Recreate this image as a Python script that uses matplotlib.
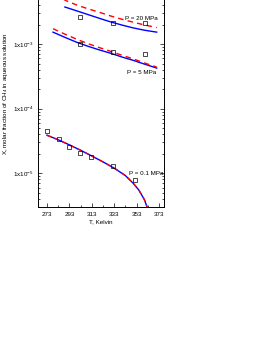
import numpy as np
import matplotlib
matplotlib.use("Agg")
import matplotlib.pyplot as plt
from matplotlib.ticker import FixedLocator, LogLocator, FuncFormatter

plt.rcParams['font.family'] = ['Liberation Sans', 'DejaVu Sans']
plt.rcParams['mathtext.fontset'] = 'custom'
plt.rcParams['mathtext.rm'] = 'Liberation Sans'
plt.rcParams['mathtext.it'] = 'Liberation Sans'

# model curves (blue solid / red dashed) and experimental points
t_20 = [289, 300, 310, 320, 330, 340, 350, 360, 371]
blue_20 = [3.75e-3, 3.25e-3, 2.85e-3, 2.5e-3, 2.2e-3, 1.97e-3, 1.78e-3, 1.64e-3, 1.53e-3]
t_20r = [285, 290, 300, 310, 320, 330, 340, 350, 360, 371]
red_20 = [5.3e-3, 4.7e-3, 4.0e-3, 3.5e-3, 3.1e-3, 2.72e-3, 2.42e-3, 2.18e-3, 1.98e-3, 1.8e-3]
t_20_exp = [302.5, 332, 360.5]
x_20_exp = [2.63e-3, 2.12e-3, 2.12e-3]

t_5 = [278.4, 290, 300, 310, 320, 330, 340, 350, 360, 371]
blue_5 = [1.53e-3, 1.25e-3, 1.06e-3, 9.2e-4, 8.1e-4, 7.2e-4, 6.3e-4, 5.6e-4, 4.9e-4, 4.25e-4]
red_5 = [1.73e-3, 1.4e-3, 1.18e-3, 1.01e-3, 8.8e-4, 7.7e-4, 6.7e-4, 5.9e-4, 5.1e-4, 4.4e-4]
t_5_exp = [302.5, 332, 360.5]
x_5_exp = [1.0e-3, 7.5e-4, 7.0e-4]

t_01 = [273, 283, 293, 303, 313, 323, 333, 343, 350, 355, 360, 363, 366]
x_01 = [3.88e-5, 3.3e-5, 2.75e-5, 2.27e-5, 1.85e-5, 1.5e-5, 1.2e-5, 9.2e-6, 7.0e-6, 5.5e-6, 3.9e-6, 2.8e-6, 1.6e-6]
t_01_exp = [273, 283.5, 292.5, 302.5, 312, 332, 351.5]
x_01_exp = [4.48e-5, 3.37e-5, 2.53e-5, 2.04e-5, 1.77e-5, 1.29e-5, 7.8e-6]

x_ticks = [273, 293, 313, 333, 353, 373]
y_ticks = [1e-5, 1e-4, 1e-3]

fig = plt.figure(figsize=(2.68, 3.47), dpi=100)
ax = fig.add_axes([38 / 268, 1 - 207 / 347, 126 / 268, 227.5 / 347])

lw = 1.0
ax.plot(t_20, blue_20, color='blue', lw=lw)
ax.plot(t_20r, red_20, color='red', lw=lw, ls=(0, (4, 3)))
ax.plot(t_5, blue_5, color='blue', lw=lw)
ax.plot(t_5, red_5, color='red', lw=lw, ls=(0, (4, 3)))
ax.plot(t_01, x_01, color='blue', lw=lw)
ax.plot(t_01, x_01, color='red', lw=lw, ls=(0, (3, 3)))

for tt, xx in [(t_20_exp, x_20_exp), (t_5_exp, x_5_exp), (t_01_exp, x_01_exp)]:
    ax.plot(tt, xx, ls='none', marker='s', ms=3.2, mfc='none', mec='black', mew=0.5)

ax.set_yscale('log')
ax.set_xlim(265, 377.5)
ax.set_ylim(3e-6, 1e-2)

ax.xaxis.set_major_locator(FixedLocator(x_ticks))
ax.xaxis.set_minor_locator(FixedLocator([283, 303, 323, 343, 363]))
ax.yaxis.set_major_locator(FixedLocator(y_ticks))
ax.yaxis.set_minor_locator(LogLocator(base=10, subs=np.arange(2, 10)))
ax.yaxis.set_minor_formatter(FuncFormatter(lambda v, p: ''))
ax.yaxis.set_major_formatter(FuncFormatter(lambda v, p: r'1x10$^{%d}$' % round(np.log10(v))))

ax.tick_params(which='both', direction='in', top=True, right=True, labelsize=4.5, width=0.5)
ax.tick_params(which='major', length=3)
ax.tick_params(which='minor', length=1.5)
for s in ax.spines.values():
    s.set_linewidth(0.7)

fs = 4.5
ax.text(372, 2.25e-3, 'P = 20 MPa', fontsize=fs, ha='right', va='bottom')
ax.text(371, 3.9e-4, 'P = 5 MPa', fontsize=fs, ha='right', va='top')
ax.text(377, 1.0e-5, 'P = 0.1 MPa', fontsize=fs, ha='right', va='center')

ax.set_xlabel('T, Kelvin', fontsize=fs, labelpad=2)
ax.set_ylabel('X, molar fraction of CH$_4$ in aqueous solution', fontsize=fs, labelpad=2)

fig.savefig('out.png', dpi=100)
